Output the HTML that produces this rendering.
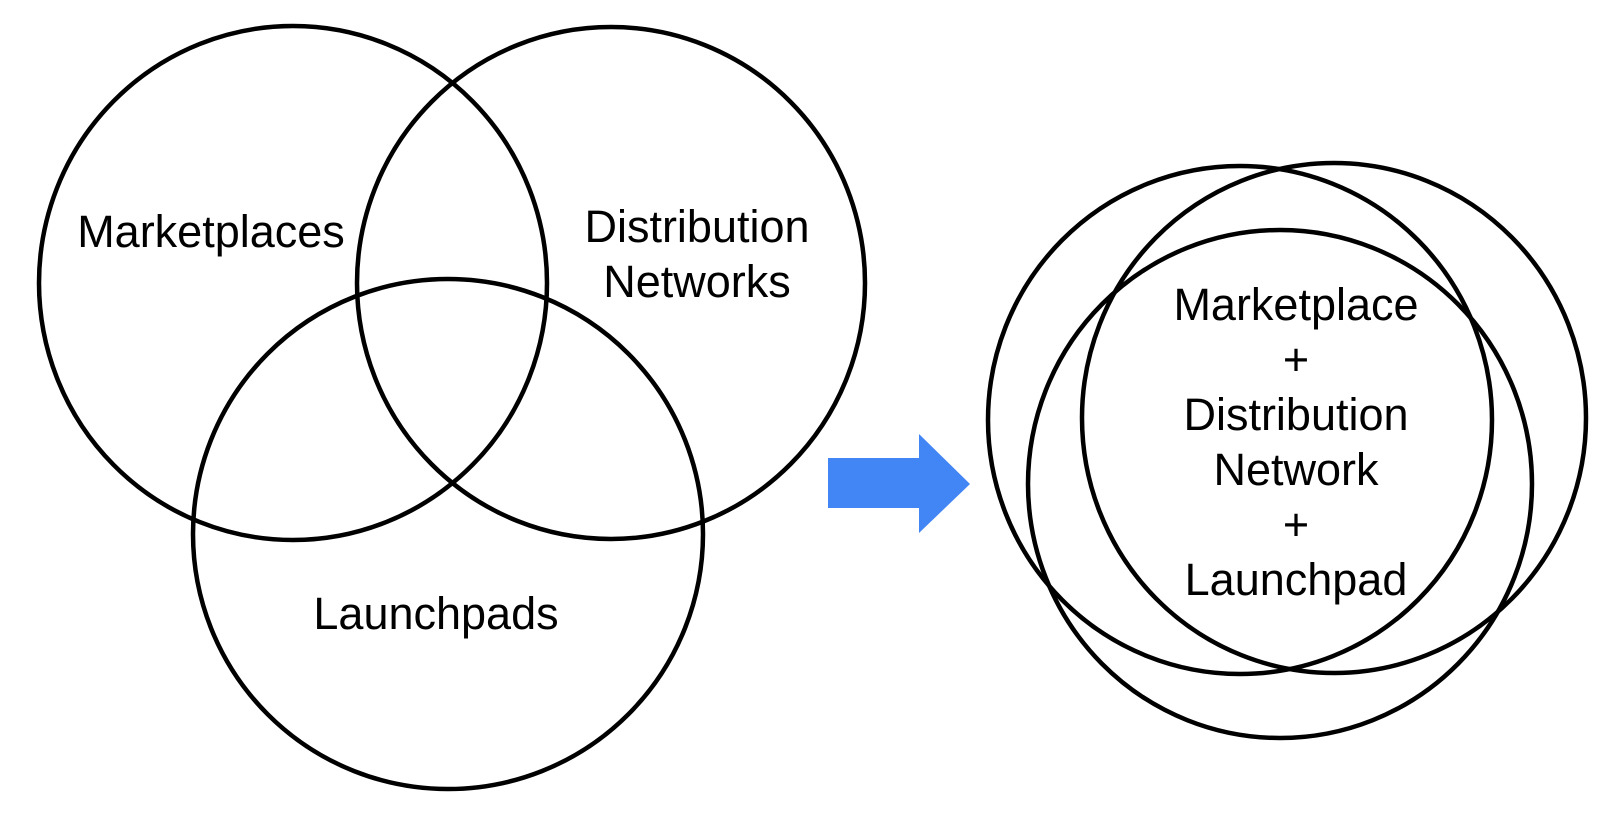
<!DOCTYPE html>
<html><head><meta charset="utf-8"><style>
html,body{margin:0;padding:0;background:#fff;}
svg{display:block;}
text{font-family:"Liberation Sans",Arial,sans-serif;font-size:45px;fill:#000;text-anchor:middle;}
</style></head><body>
<svg width="1620" height="816" viewBox="0 0 1620 816" xmlns="http://www.w3.org/2000/svg">
<g fill="none" stroke="#000" stroke-width="4.5">
<ellipse cx="293" cy="283" rx="254" ry="257"/>
<ellipse cx="611" cy="283" rx="254" ry="256"/>
<ellipse cx="448" cy="534" rx="255" ry="255"/>
<ellipse cx="1240" cy="420" rx="252" ry="254"/>
<ellipse cx="1334" cy="418" rx="252" ry="255"/>
<ellipse cx="1280" cy="484" rx="252" ry="254"/>
</g>
<polygon points="828,458 919,458 919,434 970,484 919,533 919,508 828,508" fill="#4285F4"/>
<text x="211" y="247">Marketplaces</text>
<text x="697" y="242">Distribution</text>
<text x="697" y="297">Networks</text>
<text x="436" y="629">Launchpads</text>
<text x="1296" y="320">Marketplace</text>
<text x="1296" y="375">+</text>
<text x="1296" y="430">Distribution</text>
<text x="1296" y="485">Network</text>
<text x="1296" y="540">+</text>
<text x="1296" y="595">Launchpad</text>
</svg>
</body></html>
